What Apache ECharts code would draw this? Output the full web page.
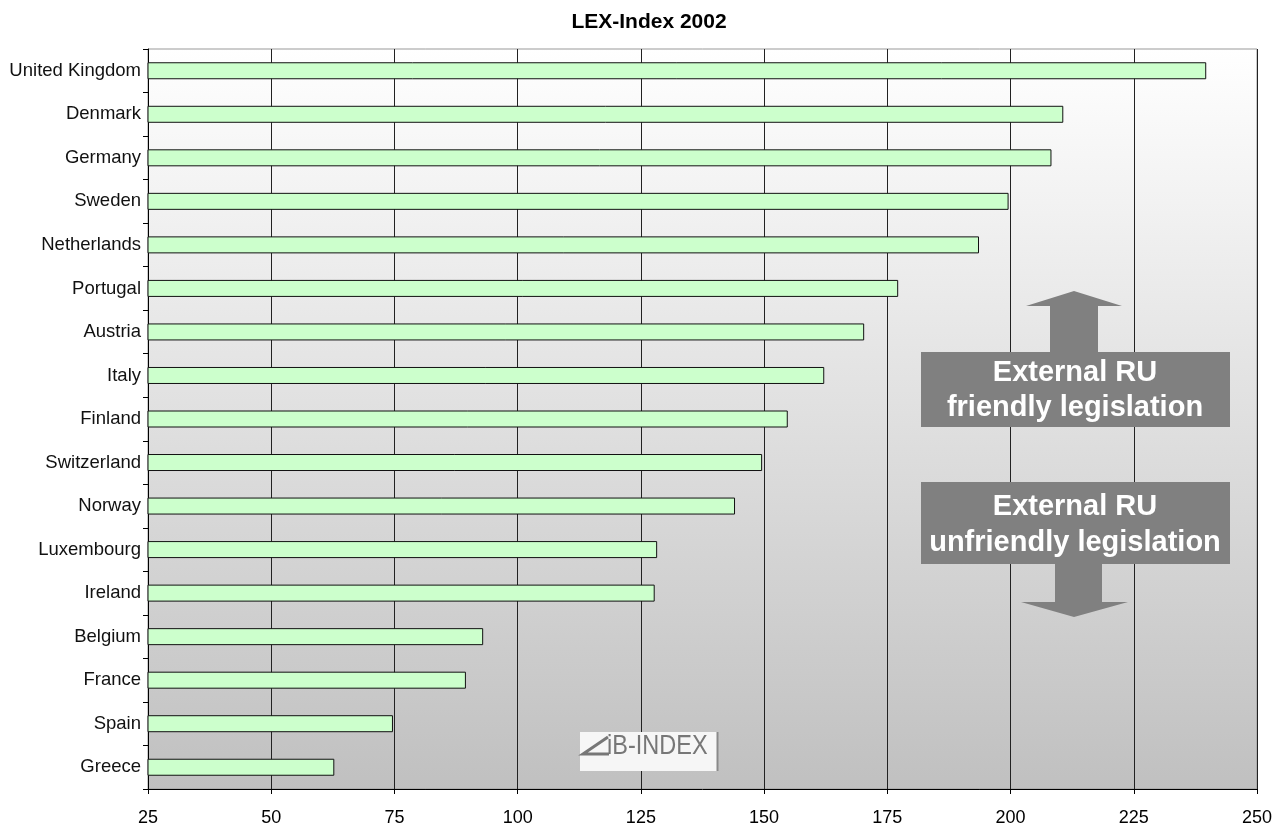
<!DOCTYPE html>
<html>
<head>
<meta charset="utf-8">
<title>LEX-Index 2002</title>
<script src="https://cdn.jsdelivr.net/npm/echarts@6/dist/echarts.min.js"></script>
<style>
  html, body { margin: 0; padding: 0; background: #ffffff; }
  #chart { width: 1285px; height: 827px; }
</style>
</head>
<body>
<div id="chart"></div>
<script>
// Countries, top to bottom
const countries = [
  'United Kingdom', 'Denmark', 'Germany', 'Sweden', 'Netherlands', 'Portugal',
  'Austria', 'Italy', 'Finland', 'Switzerland', 'Norway', 'Luxembourg',
  'Ireland', 'Belgium', 'France', 'Spain', 'Greece'
];

// LEX-Index scores 2002
const lexIndex = [
  239.7, 210.7, 208.3, 199.6, 193.6, 177.2,
  170.3, 162.2, 154.8, 149.6, 144.1, 128.3,
  127.8, 93.0, 89.5, 74.7, 62.8
];

// Value axis range and step
const xMin = 25;
const xMax = 250;
const xStep = 25;

const titleText = 'LEX-Index 2002';
const friendlyLines = ['External RU', 'friendly legislation'];
const unfriendlyLines = ['External RU', 'unfriendly legislation'];
const logoText = 'iB-INDEX';

const FONT = '"Liberation Sans", Arial, Helvetica, sans-serif';
const GREY = '#808080';

function labelText(str, x, y, size) {
  return {
    type: 'text', x: x, y: y, z: 20,
    style: {
      text: str, fill: '#ffffff', font: 'bold ' + size + 'px ' + FONT,
      textAlign: 'center', textVerticalAlign: 'middle'
    }
  };
}

const chart = echarts.init(document.getElementById('chart'), null, { renderer: 'canvas' });

chart.setOption({
  animation: false,
  backgroundColor: '#ffffff',
  title: {
    text: titleText,
    left: 644, top: 7, textAlign: 'center',
    textStyle: { fontFamily: FONT, fontWeight: 'bold', fontSize: 21, color: '#000' }
  },
  grid: {
    left: 148, top: 49, right: 28, bottom: 38,
    show: true,
    borderColor: '#999999', borderWidth: 1,
    backgroundColor: {
      type: 'linear', x: 0, y: 0, x2: 0, y2: 1,
      colorStops: [
        { offset: 0, color: '#ffffff' },
        { offset: 1, color: '#c0c0c0' }
      ]
    }
  },
  xAxis: {
    type: 'value',
    min: xMin, max: xMax, interval: xStep,
    axisLine: { show: true, lineStyle: { color: '#000', width: 1 } },
    axisTick: { show: true, length: 5, lineStyle: { color: '#000' } },
    axisLabel: { margin: 20, fontFamily: FONT, fontSize: 18, color: '#000' },
    splitLine: { show: true, lineStyle: { color: '#222', width: 1 } }
  },
  yAxis: {
    type: 'category',
    inverse: true,
    data: countries,
    axisLine: { show: true, lineStyle: { color: '#000', width: 1 } },
    axisTick: { show: true, length: 5, lineStyle: { color: '#000' } },
    axisLabel: { margin: 7, fontFamily: FONT, fontSize: 18.5, color: '#111' },
    splitLine: { show: false }
  },
  series: [{
    type: 'bar',
    data: lexIndex,
    barWidth: 17,
    itemStyle: { color: '#ccffcc', borderColor: '#111', borderWidth: 1 },
    z: 3
  }],
  graphic: [
    // upward arrow
    {
      type: 'polygon', z: 10,
      shape: { points: [[1074, 291], [1122, 306], [1098, 306], [1098, 352], [1050, 352], [1050, 306], [1026, 306]] },
      style: { fill: GREY }
    },
    // friendly box
    {
      type: 'rect', z: 11,
      shape: { x: 921, y: 352, width: 309, height: 75 },
      style: { fill: GREY }
    },
    labelText(friendlyLines[0], 1075, 373, 29),
    labelText(friendlyLines[1], 1075, 408, 29),
    // unfriendly box
    {
      type: 'rect', z: 11,
      shape: { x: 921, y: 482, width: 309, height: 82 },
      style: { fill: GREY }
    },
    labelText(unfriendlyLines[0], 1075, 507, 29),
    labelText(unfriendlyLines[1], 1075, 543, 29),
    // downward arrow
    {
      type: 'polygon', z: 10,
      shape: { points: [[1055, 563], [1102, 563], [1102, 602], [1128, 602], [1074, 617], [1021, 602], [1055, 602]] },
      style: { fill: GREY }
    },
    // logo badge
    {
      type: 'rect', z: 10,
      shape: { x: 580, y: 732, width: 138, height: 39 },
      style: { fill: '#f6f6f6' }
    },
    {
      type: 'line', z: 11,
      shape: { x1: 717.5, y1: 732, x2: 717.5, y2: 771 },
      style: { stroke: '#8a8a8a', lineWidth: 2 }
    },
    {
      type: 'polyline', z: 11,
      shape: { points: [[608, 737], [583, 754], [609, 754]] },
      style: { stroke: '#777', lineWidth: 3, fill: null }
    },
    {
      type: 'group', x: 607, y: 746, scaleX: 0.84, z: 11,
      children: [{
        type: 'text', z: 11,
        style: {
          text: logoText, fill: '#777', font: '28px ' + FONT,
          textAlign: 'left', textVerticalAlign: 'middle'
        }
      }]
    }
  ]
});
</script>
</body>
</html>
